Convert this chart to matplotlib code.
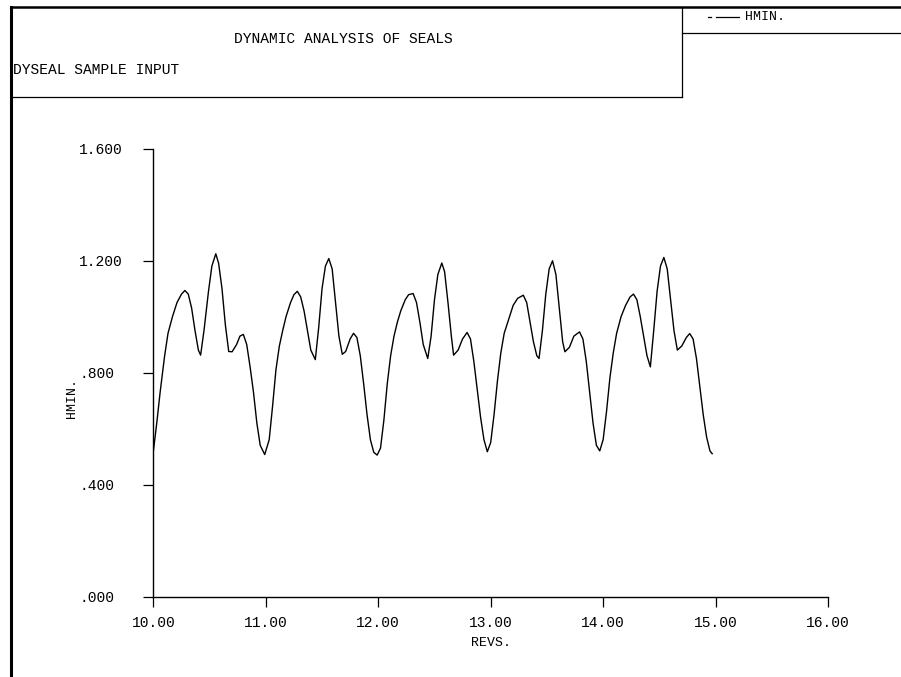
import numpy as np
import matplotlib
matplotlib.use("Agg")
import matplotlib.pyplot as plt
from matplotlib.lines import Line2D

# HMIN. vs REVS.
revs = [10.00, 10.03, 10.06, 10.10, 10.13, 10.17, 10.21, 10.25, 10.28, 10.31,
        10.34, 10.37, 10.40, 10.42, 10.45, 10.49, 10.52, 10.555, 10.58, 10.61,
        10.64, 10.67, 10.70, 10.74, 10.77, 10.80, 10.83, 10.86, 10.89, 10.92,
        10.95, 10.99,
        11.03, 11.06, 11.09, 11.12, 11.15, 11.18, 11.22, 11.25, 11.28, 11.31,
        11.34, 11.37, 11.40, 11.44, 11.47, 11.50, 11.53, 11.56, 11.59, 11.62,
        11.65, 11.68, 11.71, 11.75, 11.78, 11.81, 11.84, 11.87, 11.90, 11.93,
        11.96, 11.99,
        12.02, 12.05, 12.08, 12.11, 12.14, 12.17, 12.20, 12.24, 12.27, 12.31,
        12.34, 12.37, 12.40, 12.44, 12.47, 12.50, 12.53, 12.565, 12.59, 12.62,
        12.65, 12.67, 12.71, 12.75, 12.79, 12.82, 12.85, 12.88, 12.91, 12.94,
        12.97,
        13.00, 13.03, 13.06, 13.09, 13.12, 13.16, 13.20, 13.24, 13.29, 13.32,
        13.35, 13.38, 13.41, 13.43, 13.46, 13.49, 13.52, 13.55, 13.58, 13.61,
        13.64, 13.66, 13.70, 13.74, 13.79, 13.82, 13.85, 13.88, 13.91, 13.94,
        13.97,
        14.00, 14.03, 14.06, 14.09, 14.12, 14.16, 14.20, 14.24, 14.27, 14.30,
        14.33, 14.36, 14.39, 14.42, 14.45, 14.48, 14.51, 14.54, 14.57, 14.60,
        14.63, 14.66, 14.70, 14.74, 14.77, 14.80, 14.83, 14.86, 14.89, 14.92,
        14.95, 14.97]
hmin = [0.52, 0.62, 0.73, 0.86, 0.94, 1.00, 1.05, 1.08, 1.093, 1.08,
        1.03, 0.95, 0.88, 0.862, 0.95, 1.09, 1.18, 1.224, 1.19, 1.10,
        0.97, 0.875, 0.874, 0.90, 0.93, 0.936, 0.90, 0.82, 0.73, 0.62,
        0.54, 0.507,
        0.56, 0.68, 0.81, 0.894, 0.95, 1.00, 1.05, 1.078, 1.09, 1.07,
        1.02, 0.95, 0.88, 0.846, 0.96, 1.10, 1.18, 1.207, 1.17, 1.05,
        0.93, 0.865, 0.875, 0.92, 0.94, 0.925, 0.86, 0.76, 0.65, 0.56,
        0.515, 0.505,
        0.53, 0.63, 0.76, 0.86, 0.93, 0.98, 1.02, 1.06, 1.078, 1.082,
        1.05, 0.98, 0.90, 0.85, 0.93, 1.06, 1.15, 1.191, 1.16, 1.05,
        0.93, 0.862, 0.88, 0.92, 0.943, 0.92, 0.84, 0.74, 0.64, 0.56,
        0.517,
        0.55, 0.65, 0.77, 0.87, 0.94, 0.99, 1.04, 1.065, 1.076, 1.05,
        0.98, 0.91, 0.86, 0.85, 0.95, 1.08, 1.17, 1.199, 1.15, 1.03,
        0.91, 0.874, 0.89, 0.93, 0.945, 0.92, 0.84, 0.73, 0.62, 0.54,
        0.52,
        0.56, 0.66, 0.78, 0.87, 0.94, 1.00, 1.04, 1.07, 1.08, 1.06,
        1.00, 0.93, 0.86, 0.82, 0.95, 1.09, 1.18, 1.211, 1.17, 1.06,
        0.95, 0.88, 0.895, 0.925, 0.939, 0.92, 0.85, 0.75, 0.65, 0.57,
        0.52, 0.51]

xticks = [10, 11, 12, 13, 14, 15, 16]
xticklabels = ["10.00", "11.00", "12.00", "13.00", "14.00", "15.00", "16.00"]
yticks = [0.0, 0.4, 0.8, 1.2, 1.6]
yticklabels = [".000", ".400", ".800", "1.200", "1.600"]

W, H = 901, 677
mono = "Liberation Mono"

fig = plt.figure(figsize=(W / 100, H / 100), dpi=100)


def fx(px):
    return px / W


def fy(py):
    return 1 - py / H


def frame_line(xs, ys, lw=0.9):
    fig.add_artist(Line2D([fx(x) for x in xs], [fy(y) for y in ys],
                          color="black", lw=lw, transform=fig.transFigure))


# axes placed in pixel terms
x0, x1, ytop, ybot = 153.4, 828.0, 148.5, 596.5
ax = fig.add_axes([fx(x0), fy(ybot), (x1 - x0) / W, (ybot - ytop) / H])
ax.plot(revs, hmin, color="black", lw=1.0)

ax.set_xlim(10, 16)
ax.set_ylim(0, 1.6)
for s in ["top", "right"]:
    ax.spines[s].set_visible(False)
ax.spines["left"].set_linewidth(1.0)
ax.spines["bottom"].set_linewidth(1.0)

ax.set_xticks(xticks)
ax.set_xticklabels(xticklabels, fontfamily=mono, fontsize=10.5)
ax.set_yticks(yticks)
ax.set_yticklabels(yticklabels, fontfamily=mono, fontsize=10.5)
ax.tick_params(axis="x", direction="out", length=7, width=0.9, pad=7)
ax.tick_params(axis="y", direction="out", length=7, width=0.9,
               pad=(x0 - 10 - 79) / 1.389)
for lab in ax.get_yticklabels():
    lab.set_horizontalalignment("left")

ax.set_xlabel("REVS.", fontfamily=mono, fontsize=9.5, labelpad=5)
ax.set_ylabel("HMIN.", fontfamily=mono, fontsize=9.5)
ax.yaxis.set_label_coords((78 - x0) / (x1 - x0), (ybot - 398) / (ybot - ytop))

# outer frame
frame_line([11, 11], [7, 677], lw=2.2)
frame_line([11, 901], [7, 7], lw=1.8)
# title box
frame_line([682, 682], [7, 97])
frame_line([11, 682], [97, 97])
# legend box
frame_line([682, 901], [33, 33])
frame_line([708, 711], [17, 17])
frame_line([716, 739], [17, 17])
fig.text(fx(745), fy(17), "HMIN.", fontfamily=mono, fontsize=9.5,
         ha="left", va="center")

fig.text(fx(343), fy(39), "DYNAMIC ANALYSIS OF SEALS", fontfamily=mono,
         fontsize=10.5, ha="center", va="center")
fig.text(fx(13), fy(70), "DYSEAL SAMPLE INPUT", fontfamily=mono,
         fontsize=10.5, ha="left", va="center")

fig.savefig("out.png", dpi=100)
